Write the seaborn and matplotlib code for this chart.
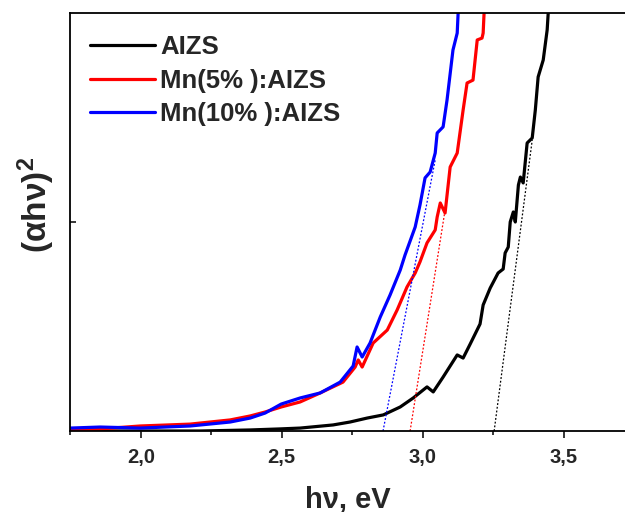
import matplotlib
matplotlib.use("Agg")
import matplotlib.pyplot as plt
from matplotlib.ticker import MultipleLocator, FixedLocator, NullFormatter, FuncFormatter
import seaborn as sns
import pandas as pd

sns.set_style("ticks")
plt.rcParams["font.family"] = ["Liberation Sans", "DejaVu Sans"]
plt.rcParams["font.weight"] = "bold"
plt.rcParams["mathtext.fontset"] = "custom"
plt.rcParams["mathtext.rm"] = "Liberation Sans:bold"
plt.rcParams["mathtext.it"] = "Liberation Sans:bold"
plt.rcParams["mathtext.bf"] = "Liberation Sans:bold"

# ---- data (photon energy, eV ; (alpha h nu)^2, arb. units) ----
x_aizs = [1.749, 2.033, 2.210, 2.388, 2.494, 2.565, 2.682, 2.742, 2.803, 2.860,
          2.920, 2.966, 3.015, 3.037, 3.072, 3.122, 3.143, 3.168, 3.203, 3.214,
          3.239, 3.267, 3.285, 3.292, 3.303, 3.310, 3.321, 3.328, 3.339, 3.346,
          3.356, 3.370, 3.388, 3.399, 3.409, 3.427, 3.441, 3.447]
y_aizs = [0.000, 0.000, 0.000, 0.005, 0.010, 0.014, 0.029, 0.043, 0.062, 0.077,
          0.115, 0.158, 0.211, 0.187, 0.258, 0.364, 0.349, 0.416, 0.512, 0.603,
          0.684, 0.756, 0.775, 0.852, 0.880, 1.000, 1.048, 1.000, 1.177, 1.215,
          1.187, 1.378, 1.402, 1.536, 1.694, 1.775, 1.919, 2.050]

x_mn5 = [1.749, 1.856, 1.998, 2.175, 2.317, 2.388, 2.441, 2.498, 2.565, 2.636,
         2.717, 2.760, 2.771, 2.785, 2.824, 2.874, 2.909, 2.944, 2.973, 2.990,
         3.015, 3.044, 3.051, 3.062, 3.079, 3.097, 3.122, 3.143, 3.157, 3.178,
         3.193, 3.210, 3.214, 3.219]
y_mn5 = [0.005, 0.010, 0.024, 0.033, 0.053, 0.072, 0.091, 0.115, 0.139, 0.182,
         0.234, 0.306, 0.340, 0.306, 0.421, 0.483, 0.579, 0.689, 0.756, 0.809,
         0.900, 0.962, 1.024, 1.091, 1.043, 1.263, 1.330, 1.536, 1.665, 1.679,
         1.871, 1.880, 1.904, 2.050]

x_mn10 = [1.749, 1.856, 1.998, 2.175, 2.317, 2.388, 2.441, 2.498, 2.565, 2.636,
          2.707, 2.753, 2.767, 2.785, 2.813, 2.849, 2.884, 2.920, 2.937, 2.973,
          2.990, 3.008, 3.026, 3.044, 3.051, 3.072, 3.086, 3.107, 3.122, 3.127]
y_mn10 = [0.014, 0.019, 0.014, 0.024, 0.043, 0.062, 0.086, 0.129, 0.158, 0.182,
          0.234, 0.311, 0.402, 0.354, 0.421, 0.545, 0.651, 0.770, 0.842, 0.976,
          1.081, 1.211, 1.239, 1.330, 1.426, 1.455, 1.584, 1.823, 1.904, 2.050]

# Tauc tangent lines (start at band gap on the energy axis)
tan_aizs_x, tan_aizs_y = [3.253, 3.388], [0.0, 1.392]
tan_mn5_x, tan_mn5_y = [2.955, 3.079], [0.0, 1.057]
tan_mn10_x, tan_mn10_y = [2.859, 3.044], [0.0, 1.297]

labels = ["AIZS", "Mn(5% ):AIZS", "Mn(10% ):AIZS"]
colors = ["#000000", "#ff0000", "#0000ff"]
xticks = [2.0, 2.5, 3.0, 3.5]

fig = plt.figure(figsize=(6.25, 5.12), dpi=100)
ax = fig.add_axes([0.112, 0.1582, 0.888, 0.8164])

series = [(x_aizs, y_aizs), (x_mn5, y_mn5), (x_mn10, y_mn10)]
tangents = [(tan_aizs_x, tan_aizs_y), (tan_mn5_x, tan_mn5_y), (tan_mn10_x, tan_mn10_y)]

for (xs, ys), lab, c in zip(series, labels, colors):
    df = pd.DataFrame({"E": xs, "A": ys})
    sns.lineplot(data=df, x="E", y="A", ax=ax, color=c, lw=2.3, label=lab,
                 sort=False, estimator=None)
for (xs, ys), c in zip(tangents, colors):
    df = pd.DataFrame({"E": xs, "A": ys})
    sns.lineplot(data=df, x="E", y="A", ax=ax, color=c, lw=0.9,
                 linestyle=(0, (1.5, 1.5)), sort=False, estimator=None)

ax.set_xlim(1.749, 3.717)
ax.set_ylim(0, 2.0)

ax.xaxis.set_major_locator(FixedLocator(xticks))
ax.xaxis.set_minor_locator(MultipleLocator(0.25))
ax.xaxis.set_major_formatter(FuncFormatter(lambda v, p: f"{v:.1f}".replace(".", ",")))
ax.yaxis.set_major_locator(FixedLocator([1.0]))
ax.yaxis.set_major_formatter(NullFormatter())

ax.tick_params(axis="x", which="major", direction="out", length=5, width=1.3,
               labelsize=14.5, pad=7.5)
ax.tick_params(axis="x", which="minor", direction="out", length=3, width=1.3)
ax.tick_params(axis="y", which="major", direction="in", length=4, width=1.3)
for lbl in ax.get_xticklabels():
    lbl.set_fontweight("bold")

for s in ["left", "bottom", "top"]:
    ax.spines[s].set_linewidth(1.3)
    ax.spines[s].set_color("black")
ax.spines["right"].set_visible(False)

ax.set_xlabel("hν, eV", fontsize=21, fontweight="bold", labelpad=13)
ax.set_ylabel("(αhν)$^{2}$", fontsize=24, fontweight="bold")
ax.yaxis.set_label_coords(-0.023, 0.54)

leg = ax.legend(loc="upper left", bbox_to_anchor=(0.036, 0.947), frameon=False,
                fontsize=18.5, handlelength=2.53, handletextpad=0.2,
                labelspacing=0.37, borderpad=0, borderaxespad=0)
for t in leg.get_texts():
    t.set_fontweight("bold")
for h in leg.get_lines():
    h.set_linewidth(2.3)

fig.savefig("out.png", dpi=100)
